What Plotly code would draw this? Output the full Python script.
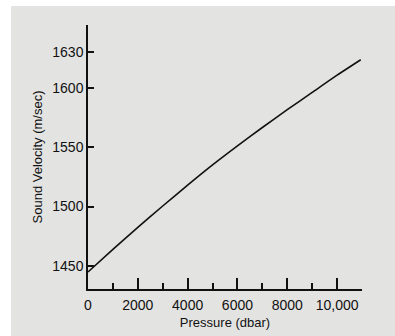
import plotly.graph_objects as go

# Data
pressure = [0, 1000, 2000, 3000, 4000, 5000, 6000, 7000, 8000, 9000, 10000, 10950]
velocity = [1445, 1464, 1482.5, 1500.5, 1518, 1535, 1551, 1566.5, 1581.5, 1596, 1610.5, 1623.5]

x_major = [0, 2000, 4000, 6000, 8000, 10000]
x_major_labels = ["0", "2000", "4000", "6000", "8000", "10,000"]
x_minor = [1000, 3000, 5000, 7000, 9000, 11000]
y_ticks = [1450, 1500, 1550, 1600, 1630]
y_labels = ["1450", "1500", "1550", "1600", "1630"]

BG = "#e3e3e1"
INK = "#111111"
FONT = "Liberation Sans, Arial, sans-serif"

fig = go.Figure()
fig.add_trace(go.Scatter(x=pressure, y=velocity, mode="lines",
                         line=dict(color=INK, width=1.6, shape="spline", smoothing=0.6),
                         showlegend=False, hoverinfo="skip"))

W, H = 395, 336
L, R, T, B = 88, 33, 25, 47
pw, ph = W - L - R, H - T - B

fig.update_layout(
    width=W, height=H,
    margin=dict(l=L, r=R, t=T, b=B, pad=0, autoexpand=False),
    paper_bgcolor=BG, plot_bgcolor=BG,
    font=dict(family=FONT, size=13, color=INK),
    showlegend=False,
)

fig.update_xaxes(
    range=[0, 11000], showgrid=False, zeroline=False, automargin=False,
    showline=True, linecolor=INK, linewidth=1.5,
    tickmode="array", tickvals=x_major, ticktext=x_major_labels,
    ticks="inside", ticklen=11, tickwidth=1.5, tickcolor=INK,
    tickfont=dict(size=14, family=FONT, color=INK),
    ticklabelstandoff=2,
    minor=dict(tickmode="array", tickvals=x_minor, ticks="inside",
               ticklen=6, tickwidth=1.5, tickcolor=INK, showgrid=False),
    title=dict(text="Pressure (dbar)", font=dict(size=13, family=FONT, color=INK),
               standoff=6),
)
fig.update_yaxes(
    range=[1430.7, 1652.7], showgrid=False, zeroline=False, automargin=False,
    showline=True, linecolor=INK, linewidth=1.5,
    tickmode="array", tickvals=y_ticks, ticktext=y_labels,
    ticks="inside", ticklen=6, tickwidth=1.5, tickcolor=INK,
    tickfont=dict(size=14, family=FONT, color=INK),
    title=dict(text="Sound Velocity (m/sec)", font=dict(size=13, family=FONT, color=INK),
               standoff=7),
)

# white scan border on top and left
fig.add_shape(type="rect", xref="paper", yref="paper",
              x0=-L / pw - 0.05, x1=(11 - L) / pw, y0=-B / ph - 0.05, y1=(H - T + 5) / ph + 0.05 + 1,
              fillcolor="white", line=dict(width=0), layer="above")
fig.add_shape(type="rect", xref="paper", yref="paper",
              x0=-L / pw - 0.05, x1=1 + R / pw + 0.05, y0=(H - B - 6) / ph, y1=(H - B) / ph + 0.05,
              fillcolor="white", line=dict(width=0), layer="above")

fig.write_html("out.html")
